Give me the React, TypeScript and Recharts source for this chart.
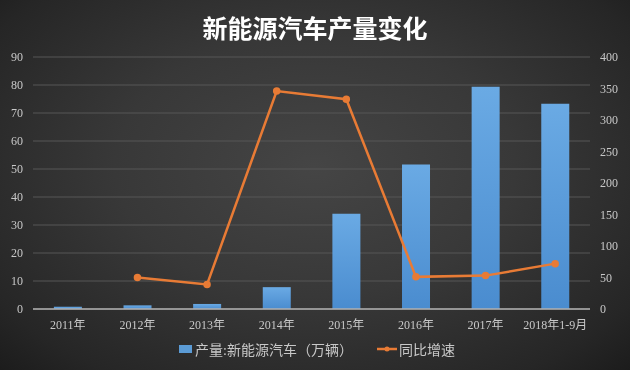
import React from 'react';
import { ComposedChart, Bar, Line, XAxis, YAxis, CartesianGrid, Legend } from 'recharts';

const categories = ['2011年', '2012年', '2013年', '2014年', '2015年', '2016年', '2017年', '2018年1-9月'];
const production = [0.8, 1.3, 1.8, 7.8, 34.0, 51.6, 79.4, 73.3];
const growth: (number | null)[] = [null, 50, 39, 346, 333, 51, 53, 72];
const leftTicks = [0, 10, 20, 30, 40, 50, 60, 70, 80, 90];
const rightTicks = [0, 50, 100, 150, 200, 250, 300, 350, 400];

const data = categories.map((c, i) => ({ name: c, production: production[i], growth: growth[i] }));

const tickStyle = { fill: '#c8c8c8', fontSize: 12, fontFamily: '"Liberation Serif", "DejaVu Serif", "Noto Sans CJK SC", serif' };

const renderLegend = () => (
  <div style={{ display: 'flex', justifyContent: 'center', alignItems: 'center', fontFamily: '"Liberation Serif", "Noto Sans CJK SC", serif', fontSize: 14, color: '#c8c8c8', paddingLeft: 4 }}>
    <span style={{ display: 'inline-block', width: 13, height: 8, background: '#5b9bd5', marginRight: 3 }} />
    <span style={{ marginRight: 24 }}>产量:新能源汽车（万辆）</span>
    <svg width={20} height={10} style={{ marginRight: 2 }}>
      <line x1={0} y1={5} x2={20} y2={5} stroke="#e87b35" strokeWidth={2.5} />
      <circle cx={10} cy={5} r={2.5} fill="#e87b35" />
    </svg>
    <span>同比增速</span>
  </div>
);

export default function App() {
  return (
    <div style={{ position: 'fixed', left: 0, top: 0, width: 630, height: 370, background: 'radial-gradient(ellipse at 50% 45%, #454545 0%, #383838 45%, #262626 85%, #1c1c1c 100%)' }}>
      <div style={{ position: 'absolute', top: 10, left: 0, width: 630, textAlign: 'center', color: '#ffffff', fontSize: 25, fontWeight: 'bold', fontFamily: '"Noto Sans CJK SC", sans-serif', lineHeight: '34px' }}>
        新能源汽车产量变化
      </div>
      <ComposedChart width={630} height={370} data={data} margin={{ top: 57, right: 0, left: 0, bottom: 1 }} barCategoryGap="30%">
        <defs>
          <linearGradient id="barGrad" x1="0" y1="0" x2="0" y2="1">
            <stop offset="0%" stopColor="#6aaae4" />
            <stop offset="100%" stopColor="#4a8ccf" />
          </linearGradient>
        </defs>
        <CartesianGrid vertical={false} stroke="#565656" strokeWidth={1} yAxisId="left" />
        <XAxis dataKey="name" height={30} tick={tickStyle} tickLine={false} axisLine={{ stroke: '#b0b0b0', strokeWidth: 1.5 }} tickMargin={5} interval={0} />
        <YAxis yAxisId="left" domain={[0, 90]} ticks={leftTicks} width={33} tick={tickStyle} tickLine={false} axisLine={false} tickMargin={4} />
        <YAxis yAxisId="right" orientation="right" domain={[0, 400]} ticks={rightTicks} width={40} tick={tickStyle} tickLine={false} axisLine={false} tickMargin={4} />
        <Legend verticalAlign="bottom" height={30} content={renderLegend} />
        <Bar yAxisId="left" dataKey="production" fill="url(#barGrad)" isAnimationActive={false} />
        <Line yAxisId="right" dataKey="growth" stroke="#e87b35" strokeWidth={2.5} dot={{ r: 2.5, fill: '#e87b35', stroke: '#e87b35' }} isAnimationActive={false} connectNulls={false} />
      </ComposedChart>
    </div>
  );
}
